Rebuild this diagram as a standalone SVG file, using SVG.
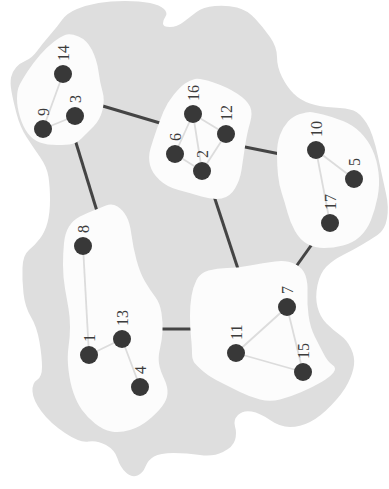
<svg xmlns="http://www.w3.org/2000/svg" width="389" height="489" viewBox="0 0 389 489">
<style>
.bg{fill:#dedede;stroke:none}
.cl{fill:#fcfcfc;stroke:none}
.ie{stroke:#444;stroke-width:3;fill:none}
.e{stroke:#dcdcdc;stroke-width:1.8;fill:none}
.n{fill:#383838}
.t{font-family:"Liberation Serif",serif;font-size:16px;fill:#3c3c3c}
</style>
<rect width="389" height="489" fill="#ffffff"/>
<path class="bg" d="M98.5,3 Q110,1 125,1 Q140,1 150,3 Q160,5 164,9 Q168,13 165.5,16.5 Q163,20 163,23.5 Q163,27 170,27 Q177,27 183.5,22 Q190,17 196.5,12 Q203,7 215,6 Q227,5 237,7.5 Q247,10 255,18.5 Q263,27 270,37 Q277,47 277,57 Q277,67 282,77 Q287,87 293.5,93.5 Q300,100 310,103.5 Q320,107 333.5,107.5 Q347,108 353.5,110.5 Q360,113 366.5,123 Q373,133 378,156.5 Q383,180 386,193.5 Q389,207 387,218.5 Q385,230 377.5,235 Q370,240 361.5,245 Q353,250 343,255 Q333,260 326.5,266.5 Q320,273 317.5,285 Q315,297 317.5,307 Q320,317 326.5,323.5 Q333,330 340,335 Q347,340 351,348.5 Q355,357 354,365 Q353,373 348,383 Q343,393 331.5,405 Q320,417 310,422 Q300,427 290,427 Q280,427 270,420 Q260,413 251.5,411.5 Q243,410 238,415 Q233,420 235,426.5 Q237,433 235,440 Q233,447 223,452 Q213,457 200,455 Q187,453 173.5,453 Q160,453 154,456.5 Q148,460 145.5,466.5 Q143,473 137.5,475.5 Q132,478 126,472.5 Q120,467 117.5,458.5 Q115,450 106,445 Q97,440 88.5,441.5 Q80,443 65,433 Q50,423 41.5,411.5 Q33,400 32.5,391.5 Q32,383 37,380 Q42,377 42,367 Q42,357 39.5,342 Q37,327 31,317 Q25,307 23.5,293.5 Q22,280 22.5,267.5 Q23,255 29,250 Q35,245 40,238.5 Q45,232 47.5,222.5 Q50,213 50,200 Q50,187 48.5,177 Q47,167 40,157 Q33,147 26.5,137 Q20,127 16.5,113.5 Q13,100 11.5,91.5 Q10,83 11,77.5 Q12,72 16,67.5 Q20,63 26,60.5 Q32,58 37.5,50.5 Q43,43 50,35 Q57,27 62,20 Q67,13 77,9 Q87,5 98.5,3 Z"/>
<g id="connectors">
<line class="ie" x1="96" y1="104" x2="170" y2="126"/>
<line class="ie" x1="73" y1="133" x2="100" y2="221"/>
<line class="ie" x1="235" y1="145" x2="285" y2="155"/>
<line class="ie" x1="212" y1="190" x2="241" y2="278"/>
<line class="ie" x1="315" y1="240" x2="290" y2="275"/>
<line class="ie" x1="150" y1="329" x2="200" y2="329"/>
</g>
<g id="clusterA"><path class="cl" d="M53.5,42 Q60,37 65,35 Q70,33 78.5,36.5 Q87,40 92,50 Q97,60 98.5,71.5 Q100,83 102.5,91.5 Q105,100 102.5,110 Q100,120 93.5,126.5 Q87,133 82,138 Q77,143 72,144 Q67,145 57,145 Q47,145 40,142.5 Q33,140 28,133.5 Q23,127 20,117 Q17,107 17,98.5 Q17,90 19.5,85 Q22,80 27.5,71.5 Q33,63 40,55 Q47,47 53.5,42 Z"/></g>
<g id="clusterB"><path class="cl" d="M185,83.5 Q190,80 195,79 Q200,78 213.5,82.5 Q227,87 237,93.5 Q247,100 250,106.5 Q253,113 250,123 Q247,133 245,146.5 Q243,160 241.5,170 Q240,180 235,188.5 Q230,197 221.5,198.5 Q213,200 201.5,196.5 Q190,193 178.5,190 Q167,187 159.5,180 Q152,173 150,165 Q148,157 150.5,148.5 Q153,140 156.5,130 Q160,120 163.5,111.5 Q167,103 173.5,95 Q180,87 185,83.5 Z"/></g>
<g id="clusterC"><path class="cl" d="M300,114 Q307,112 310,112 Q313,112 323,114.5 Q333,117 343,121 Q353,125 360.5,132.5 Q368,140 372.5,150 Q377,160 378.5,172.5 Q380,185 377.5,197.5 Q375,210 371,220 Q367,230 360,236.5 Q353,243 343,245.5 Q333,248 324,248 Q315,248 307.5,244 Q300,240 295,231 Q290,222 287.5,212.5 Q285,203 282,194 Q279,185 278,175 Q277,165 277,154 Q277,143 280,135 Q283,127 288,121.5 Q293,116 300,114 Z"/></g>
<g id="clusterD"><path class="cl" d="M93.5,210.5 Q100,208 106,205.5 Q112,203 117.5,206.5 Q123,210 126.5,216.5 Q130,223 131.5,235 Q133,247 136.5,260 Q140,273 145,281.5 Q150,290 155,296.5 Q160,303 161.5,313 Q163,323 162.5,331.5 Q162,340 160,348.5 Q158,357 159,363.5 Q160,370 164,378.5 Q168,387 167.5,393.5 Q167,400 162,406.5 Q157,413 148.5,420 Q140,427 130,430 Q120,433 111.5,431.5 Q103,430 95,423.5 Q87,417 82,410 Q77,403 73.5,393 Q70,383 68.5,370 Q67,357 68.5,347 Q70,337 70,327 Q70,317 68.5,308.5 Q67,300 65,288.5 Q63,277 63,265 Q63,253 64,243 Q65,233 69,226.5 Q73,220 80,216.5 Q87,213 93.5,210.5 Z"/></g>
<g id="clusterE"><path class="cl" d="M208.5,270.5 Q217,268 227,268 Q237,268 250,265.5 Q263,263 275,261.5 Q287,260 295,264 Q303,268 305.5,275.5 Q308,283 307.5,293 Q307,303 308.5,315 Q310,327 315,337 Q320,347 324,354.5 Q328,362 332.5,365 Q337,368 333.5,372.5 Q330,377 321.5,382 Q313,387 301.5,392 Q290,397 280,399.5 Q270,402 260,399.5 Q250,397 240,392 Q230,387 220,382 Q210,377 204,372 Q198,367 195,363.5 Q192,360 192,353.5 Q192,347 191,337 Q190,327 190,316 Q190,305 191.5,296 Q193,287 196.5,280 Q200,273 208.5,270.5 Z"/></g>
<g id="edges">
<line class="e" x1="63" y1="74" x2="43" y2="129"/>
<line class="e" x1="43" y1="129" x2="75" y2="116"/>
<line class="e" x1="193" y1="114" x2="175" y2="154"/>
<line class="e" x1="193" y1="114" x2="202" y2="171"/>
<line class="e" x1="193" y1="114" x2="226" y2="134"/>
<line class="e" x1="226" y1="134" x2="202" y2="171"/>
<line class="e" x1="175" y1="154" x2="202" y2="171"/>
<line class="e" x1="316" y1="150" x2="354" y2="179"/>
<line class="e" x1="316" y1="150" x2="330" y2="223"/>
<line class="e" x1="83" y1="246" x2="89" y2="355"/>
<line class="e" x1="89" y1="355" x2="122" y2="339"/>
<line class="e" x1="122" y1="339" x2="140" y2="387"/>
<line class="e" x1="287" y1="307" x2="236" y2="353"/>
<line class="e" x1="236" y1="353" x2="303" y2="372"/>
<line class="e" x1="287" y1="307" x2="303" y2="372"/>
</g>
<g id="n14"><circle class="n" cx="63" cy="74" r="9"/><text class="t" transform="translate(68.5,61) rotate(-90)">14</text></g>
<g id="n3"><circle class="n" cx="75" cy="116" r="9"/><text class="t" transform="translate(80.5,103) rotate(-90)">3</text></g>
<g id="n9"><circle class="n" cx="43" cy="129" r="9"/><text class="t" transform="translate(48.5,116) rotate(-90)">9</text></g>
<g id="n16"><circle class="n" cx="193" cy="114" r="9"/><text class="t" transform="translate(198.5,101) rotate(-90)">16</text></g>
<g id="n12"><circle class="n" cx="226" cy="134" r="9"/><text class="t" transform="translate(231.5,121) rotate(-90)">12</text></g>
<g id="n6"><circle class="n" cx="175" cy="154" r="9"/><text class="t" transform="translate(180.5,141) rotate(-90)">6</text></g>
<g id="n2"><circle class="n" cx="202" cy="171" r="9"/><text class="t" transform="translate(207.5,158) rotate(-90)">2</text></g>
<g id="n10"><circle class="n" cx="316" cy="150" r="9"/><text class="t" transform="translate(321.5,137) rotate(-90)">10</text></g>
<g id="n5"><circle class="n" cx="354" cy="179" r="9"/><text class="t" transform="translate(359.5,166) rotate(-90)">5</text></g>
<g id="n17"><circle class="n" cx="330" cy="223" r="9"/><text class="t" transform="translate(335.5,210) rotate(-90)">17</text></g>
<g id="n8"><circle class="n" cx="83" cy="246" r="9"/><text class="t" transform="translate(88.5,233) rotate(-90)">8</text></g>
<g id="n1"><circle class="n" cx="89" cy="355" r="9"/><text class="t" transform="translate(94.5,342) rotate(-90)">1</text></g>
<g id="n13"><circle class="n" cx="122" cy="339" r="9"/><text class="t" transform="translate(127.5,326) rotate(-90)">13</text></g>
<g id="n4"><circle class="n" cx="140" cy="387" r="9"/><text class="t" transform="translate(145.5,374) rotate(-90)">4</text></g>
<g id="n7"><circle class="n" cx="287" cy="307" r="9"/><text class="t" transform="translate(292.5,294) rotate(-90)">7</text></g>
<g id="n11"><circle class="n" cx="236" cy="353" r="9"/><text class="t" transform="translate(241.5,340) rotate(-90)">11</text></g>
<g id="n15"><circle class="n" cx="303" cy="372" r="9"/><text class="t" transform="translate(308.5,359) rotate(-90)">15</text></g>
</svg>
